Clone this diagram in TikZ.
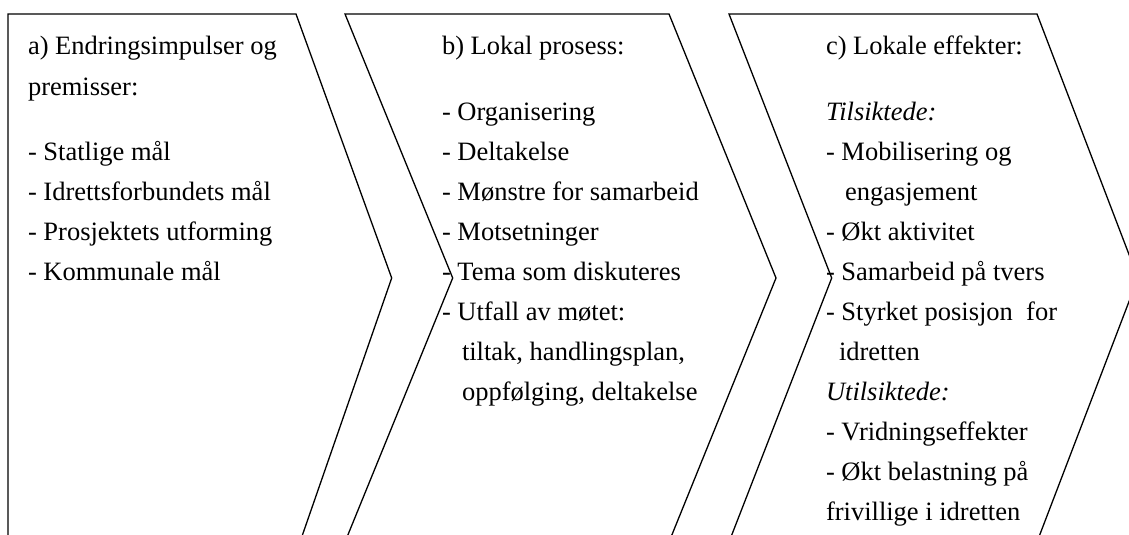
\documentclass[tikz,border=0pt]{standalone}
\usepackage{fontspec}
\setmainfont{Liberation Serif}
\begin{document}
\begin{tikzpicture}[x=1pt,y=-1pt,
  chev/.style={draw=black,line width=1.3pt,line join=miter},
  txt/.style={anchor=base west,inner sep=0pt,outer sep=0pt,font=\fontsize{26.5}{40}\selectfont}]
\useasboundingbox (0,0) rectangle (1129,535);
\clip (0,0) rectangle (1129,535);
% chevrons
\draw[chev] (8,14) -- (296,14) -- (391.7,278) -- (300,542) -- (8,542) -- cycle;
\draw[chev] (345,14) -- (669,14) -- (776,278) -- (669,542) -- (345,542) -- (452.7,278) -- cycle;
\draw[chev] (729,14) -- (1037,14) -- (1138,278) -- (1037,542) -- (729,542) -- (831.7,278) -- cycle;
% column a
\node[txt] (a1) at (28,55) {a) Endringsimpulser og};
\node[txt] (a2) at (28,95) {premisser:};
\node[txt] (a3) at (28,160) {- Statlige mål};
\node[txt] (a4) at (28,200) {- Idrettsforbundets mål};
\node[txt] (a5) at (28,240) {- Prosjektets utforming};
\node[txt] (a6) at (28,280) {- Kommunale mål};
% column b
\node[txt] (b1) at (442,55) {b) Lokal prosess:};
\node[txt] (b2) at (442,120) {- Organisering};
\node[txt] (b3) at (442,160) {- Deltakelse};
\node[txt] (b4) at (442,200) {- Mønstre for samarbeid};
\node[txt] (b5) at (442,240) {- Motsetninger};
\node[txt] (b6) at (442,280) {- Tema som diskuteres};
\node[txt] (b7) at (442,320) {- Utfall av møtet:};
\node[txt] (b8) at (462,360) {tiltak, handlingsplan,};
\node[txt] (b9) at (462,400) {oppfølging, deltakelse};
% column c
\node[txt] (c1) at (826,55) {c) Lokale effekter:};
\node[txt] (c2) at (826,120) {\itshape Tilsiktede:};
\node[txt] (c3) at (826,160) {- Mobilisering og};
\node[txt] (c4) at (845,200) {engasjement};
\node[txt] (c5) at (826,240) {- Økt aktivitet};
\node[txt] (c6) at (826,280) {- Samarbeid på tvers};
\node[txt] (c7) at (826,320) {- Styrket posisjon\ \ for};
\node[txt] (c8) at (839,360) {idretten};
\node[txt] (c9) at (826,400) {\itshape Utilsiktede:};
\node[txt] (c10) at (826,440) {- Vridningseffekter};
\node[txt] (c11) at (826,480) {- Økt belastning på};
\node[txt] (c12) at (826,520) {frivillige i idretten};
\end{tikzpicture}
\end{document}
